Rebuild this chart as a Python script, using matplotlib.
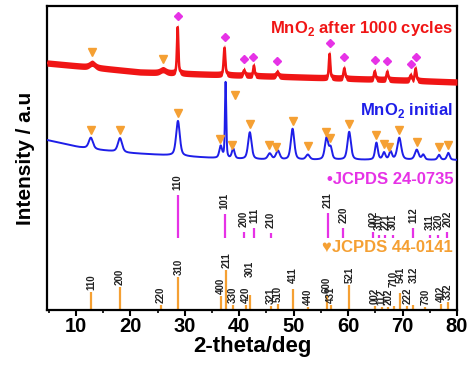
import numpy as np
import matplotlib
matplotlib.use("Agg")
import matplotlib.pyplot as plt
from matplotlib.ticker import MultipleLocator

# ---------------- data ----------------
# y values are in arbitrary intensity units (0 = bottom of the frame)
initial_base_x = [4.7, 10.5, 14.4, 19.7, 28.9, 38.1, 47.3, 80.0]
initial_base_y = [170, 163, 160, 157, 154, 151, 150, 150]
initial_peak_pos = [12.75, 18.1, 28.75, 36.6, 37.5, 38.9, 41.95, 45.6, 47.1, 49.8,
                    52.6, 56.05, 56.8, 60.2, 65.2, 66.6, 67.8, 69.4, 72.6, 73.8,
                    76.7, 78.4]
initial_peak_height = [11, 14, 35, 12, 76, 10, 27, 6, 9, 31,
                       5, 22, 11, 28, 17, 7, 8, 22, 10, 5,
                       5, 7]
initial_peak_fwhm = [0.9, 0.9, 0.8, 0.6, 0.28, 0.6, 0.75, 0.8, 0.8, 0.75,
                     0.8, 0.75, 0.6, 0.75, 0.6, 0.6, 0.6, 0.85, 0.8, 0.6,
                     0.6, 0.6]

cycled_base_x = [4.7, 14.4, 21.8, 32.8, 51.2, 69.6, 80.0]
cycled_base_y = [247, 242, 238, 236, 233, 230, 228]
cycled_peak_pos = [13.0, 26.0, 28.7, 37.3, 40.9, 42.7, 47.0, 56.6, 59.3, 64.9,
                   67.2, 71.5, 72.4]
cycled_peak_height = [4, 3, 46, 27, 5, 10, 4, 24, 10, 8,
                      8, 5, 12]
cycled_peak_fwhm = [1.2, 1.2, 0.3, 0.35, 0.4, 0.3, 0.5, 0.3, 0.35, 0.35,
                    0.35, 0.4, 0.35]

# phase markers above the peaks
initial_alpha_marks = [12.75, 18.1, 28.75, 36.5, 39.2, 38.6, 41.95, 45.5, 46.7, 49.8,
                       52.6, 55.9, 56.7, 60.2, 65.2, 66.6, 67.5, 69.4, 72.6, 76.7, 78.4]
cycled_alpha_marks = [13.0, 26.0]
cycled_beta_marks = [28.7, 37.3, 40.9, 42.6, 47.0, 56.6, 59.3, 64.9, 67.2, 71.5, 72.4]

# JCPDS 24-0735 (magenta)
beta_hkl = ["110", "101", "200", "111", "210", "211", "220", "002", "310", "221",
            "301", "112", "311", "320", "202"]
beta_pos = [28.7, 37.3, 40.8, 42.7, 45.8, 56.3, 59.1, 64.6, 65.6, 66.8,
            68.2, 71.9, 75.0, 76.6, 78.2]
beta_int = [43, 24, 6, 10, 5, 25, 10, 6, 3, 3,
            3, 10, 3, 3, 6]

# JCPDS 44-0141 (orange)
alpha_hkl = ["110", "200", "220", "310", "400", "211", "330", "420", "301", "321",
             "510", "411", "440", "600", "431", "521", "002", "112", "202", "710",
             "541", "222", "312", "730", "402", "332"]
alpha_pos = [12.8, 18.1, 25.6, 28.8, 36.6, 37.6, 38.9, 41.2, 42.0, 45.8,
             47.1, 49.8, 52.6, 56.1, 56.9, 60.2, 64.9, 66.2, 67.4, 68.4,
             69.6, 70.9, 72.0, 74.2, 77.0, 78.3]
alpha_int = [18, 23, 5, 33, 14, 40, 5, 5, 15, 4,
             6, 21, 3, 15, 5, 25, 4, 3, 3, 4,
             17, 4, 5, 3, 6, 8]

# ---------------- layout / style ----------------
beta_bar_bottom = 72
alpha_label_override = {"301": 33, "710": 23, "541": 27, "312": 27, "411": 27}
initial_mark_override = {39.2: 215}
mark_pad = 8
band_half = 3.2

RED = "#F01515"
BLUE = "#1E1EE8"
MAG = "#E632E6"
ORANGE = "#F5A033"

plt.rcParams["font.family"] = ["Liberation Sans", "DejaVu Sans"]
plt.rcParams["mathtext.fontset"] = "custom"
plt.rcParams["mathtext.bf"] = "Liberation Sans:bold"
plt.rcParams["mathtext.rm"] = "Liberation Sans:bold"


def profile(x, base_x, base_y, pos, h, w):
    y = np.interp(x, base_x, base_y).astype(float)
    for p, hh, ww in zip(pos, h, w):
        g = np.exp(-4 * np.log(2) * ((x - p) / ww) ** 2)
        lo = 1.0 / (1.0 + 4 * ((x - p) / ww) ** 2)
        y += hh * (0.5 * g + 0.5 * lo)
    return y


x = np.arange(4.7, 80.0001, 0.01)
y_init = profile(x, initial_base_x, initial_base_y, initial_peak_pos,
                 initial_peak_height, initial_peak_fwhm)
y_cyc = profile(x, cycled_base_x, cycled_base_y, cycled_peak_pos,
                cycled_peak_height, cycled_peak_fwhm)

fig = plt.figure(figsize=(4.69, 3.65), dpi=100)
ax = fig.add_axes([47 / 469, 1 - 310 / 365, 410 / 469, 304 / 365])

ax.plot(x, y_init, color=BLUE, lw=1.4, zorder=3)
ax.fill_between(x, y_cyc - band_half, y_cyc + band_half, color=RED, lw=0, zorder=4)
ax.plot(x, y_cyc, color=RED, lw=1.8, zorder=4)

# markers
def at(xs, xv, yv):
    return np.interp(xs, xv, yv)

mx = np.array(initial_alpha_marks)
my = at(mx, x, y_init) + mark_pad
for k, v in initial_mark_override.items():
    my[np.isclose(mx, k)] = v
ax.plot(mx, my, "v", color=ORANGE, ms=6, mec=ORANGE, zorder=5)

mx = np.array(cycled_alpha_marks)
ax.plot(mx, at(mx, x, y_cyc) + mark_pad + 3, "v", color=ORANGE, ms=6, zorder=5)
mx = np.array(cycled_beta_marks)
ax.plot(mx, at(mx, x, y_cyc) + mark_pad + 3, "D", color=MAG, ms=4.5, zorder=5)

# reference bars
for hkl, p, h in zip(beta_hkl, beta_pos, beta_int):
    ax.vlines(p, beta_bar_bottom, beta_bar_bottom + h, color=MAG, lw=1.6, zorder=2)
    ax.text(p, beta_bar_bottom + h + 5, hkl, rotation=90, ha="center", va="bottom",
            fontsize=7, fontweight="bold", color="#222222")

for hkl, p, h in zip(alpha_hkl, alpha_pos, alpha_int):
    ax.vlines(p, 0, h, color=ORANGE, lw=1.6, zorder=2)
    ly = alpha_label_override.get(hkl, h + 2)
    ax.text(p, ly, hkl, rotation=90, ha="center", va="bottom",
            fontsize=7, fontweight="bold", color="#222222")

# curve / phase titles
ax.text(79.3, 281, r"MnO$_\mathbf{2}$ after 1000 cycles", color=RED, fontsize=12,
        fontweight="bold", ha="right", va="center")
ax.text(79.3, 200, r"MnO$_\mathbf{2}$ initial", color=BLUE, fontsize=12,
        fontweight="bold", ha="right", va="center")
ax.text(79.3, 130, "\u2022JCPDS 24-0735", color=MAG, fontsize=12,
        fontweight="bold", ha="right", va="center")
ax.text(79.3, 63, "\u2665JCPDS 44-0141", color=ORANGE, fontsize=12,
        fontweight="bold", ha="right", va="center")

ax.set_xlim(4.7, 80)
ax.set_ylim(0, 304)
ax.set_yticks([])
ax.xaxis.set_major_locator(MultipleLocator(10))
ax.xaxis.set_minor_locator(MultipleLocator(5))
ax.tick_params(axis="x", which="major", direction="out", length=4, width=1.5,
               labelsize=14.5, pad=1)
ax.tick_params(axis="x", which="minor", direction="out", length=2.5, width=1.2)
for lab in ax.get_xticklabels():
    lab.set_fontweight("bold")
for s in ax.spines.values():
    s.set_linewidth(1.6)

ax.set_xlabel("2-theta/deg", fontsize=16, fontweight="bold", labelpad=0)
ax.set_ylabel("Intensity / a.u", fontsize=15, fontweight="bold")
ax.yaxis.set_label_coords(-0.03, 0.5)

fig.savefig("out.png", dpi=100)
